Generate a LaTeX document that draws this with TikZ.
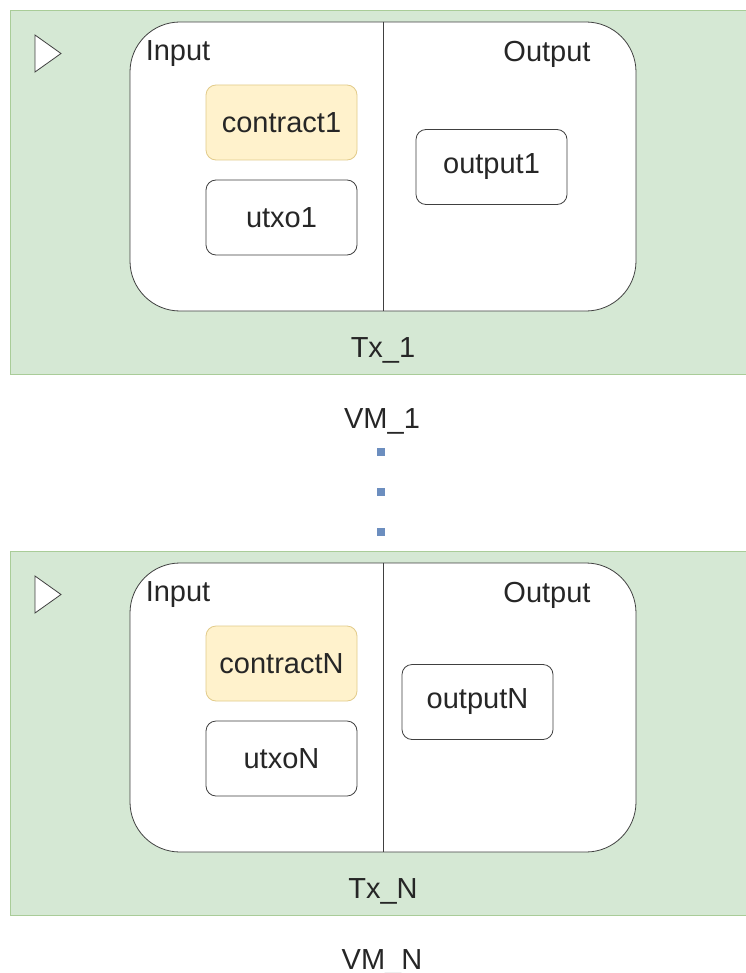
\documentclass[tikz,border=0pt]{standalone}
\usepackage{fontspec}
\setmainfont{Liberation Sans}
\usepackage{xcolor}
\usetikzlibrary{positioning}
\definecolor{txgreen}{HTML}{D5E8D4}
\definecolor{txline}{HTML}{A9CC98}
\definecolor{ctfill}{HTML}{FFF2CC}
\definecolor{ctline}{HTML}{E2CB8A}
\definecolor{dotblue}{HTML}{6C8EBF}

\begin{document}
\begin{tikzpicture}[x=0.5pt,y=-0.5pt,font=\fontsize{14.5}{17}\selectfont,text=black!85]
    \tikzset{
      txbox/.style={draw=txline, fill=txgreen, minimum width=375pt, minimum height=182pt, inner sep=0pt},
      iobox/.style={draw=black!75, fill=white, rounded corners=25pt, minimum width=253pt, minimum height=144.5pt, inner sep=0pt},
      item/.style={draw=black!75, fill=white, rounded corners=5pt, minimum width=75.5pt, minimum height=37.5pt, inner sep=0pt},
      code/.style={item, draw=ctline, fill=ctfill},
      dot/.style={fill=dotblue, minimum size=4pt, inner sep=0pt}
    }
    \useasboundingbox (0,0) rectangle (745,973);
    \foreach \k/\d/\oy/\ox in {1/0/167/491.5,N/541/161/477.5} {
      \node[txbox] (tx\k) at (385,192+\d) {};
      \draw[black!75, fill=white] (35,35+\d) -- (35,72+\d) -- (61,53.5+\d) -- cycle;
      \node[iobox] (io\k) at (383,166.5+\d) {};
      \draw[black!75] (io\k.north) -- (io\k.south);
      \node (in\k) at (178,54+\d) {Input};
      \node (out\k) at (547,54+\d) {Output};
      \node[code] (ct\k) at (281.5,122.5+\d) {contract\k};
      \node[item] (utxo\k) at (281.5,217.5+\d) {utxo\k};
      \node[item] (op\k) at (\ox,\oy+\d) {output\k};
      \node (txl\k) at (383,350+\d) {Tx\_\k};
      \node (vm\k) at (382,421+\d) {VM\_\k};
    }
    \foreach \y in {452,492,532}
      \node[dot] (dot\y) at (381,\y) {};
  \end{tikzpicture}
\end{document}
